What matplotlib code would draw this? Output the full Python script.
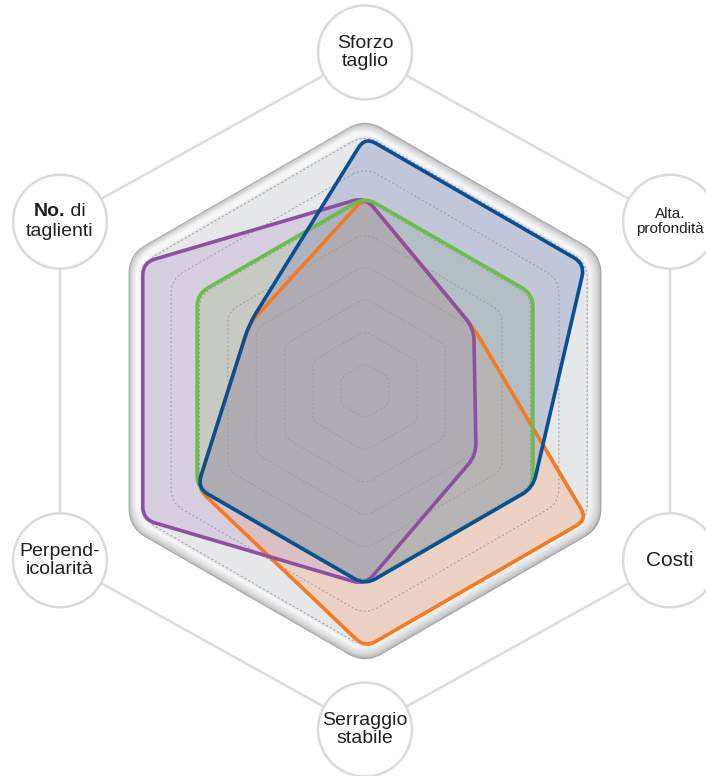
import numpy as np
import matplotlib.pyplot as plt
from matplotlib.path import Path
from matplotlib.patches import PathPatch, Circle

# axes: clockwise from the top
labels = ["Sforzo\ntaglio", "Alta.\nprofondità", "Costi", "Serraggio\nstabile",
          "Perpend-\nicolarità", "No. di\ntaglienti"]

# values in % of the outer frame radius
blue = [93, 93, 71, 71, 71, 49]
green = [71, 71, 71, 71, 71, 71]
orange = [71, 46, 94, 94, 71, 49]
purple = [71, 46, 47, 71, 94, 94]
rings = [10, 22, 34, 46, 58, 70, 82, 94]

FONT = ['Liberation Sans Narrow', 'Liberation Sans', 'DejaVu Sans']

angles = np.deg2rad(90 - 60 * np.arange(6))


def hex_xy(r, dx=0.0, dy=0.0):
    r = np.asarray(r, float) / 100.0
    return dx + r * np.cos(angles), dy + r * np.sin(angles)


def rounded_path(x, y, d):
    pts = np.column_stack([x, y])
    n = len(pts)
    verts, codes = [], []
    for i in range(n):
        p, a, b = pts[i], pts[i - 1], pts[(i + 1) % n]
        la, lb = np.linalg.norm(a - p), np.linalg.norm(b - p)
        p1 = p + (a - p) / la * min(d, 0.45 * la)
        p2 = p + (b - p) / lb * min(d, 0.45 * lb)
        verts += [p1, p, p2]
        codes += [Path.MOVETO if i == 0 else Path.LINETO, Path.CURVE3, Path.CURVE3]
    verts.append(verts[0])
    codes.append(Path.CLOSEPOLY)
    return Path(verts, codes)


fig = plt.figure(figsize=(7.06, 7.76), dpi=100)
ax = fig.add_axes([0, 0, 1, 1])
ax.set_xlim(-1.337, 1.249)
ax.set_ylim(-1.410, 1.432)
ax.set_aspect('equal')
ax.axis('off')

# connecting hexagon between label circles
lab_x = 1.29 * np.cos(angles)
lab_y = 1.24 * np.sin(angles)
ax.plot(np.append(lab_x, lab_x[0]), np.append(lab_y, lab_y[0]),
        color='#dcdcdc', lw=1.8, zorder=1)

# bevelled frame
n_layers = 10
c0 = np.array([165, 166, 169]) / 255
c1 = np.array([247, 247, 248]) / 255
for k, rr in enumerate(np.linspace(100, 96.0, n_layers)):
    t = k / (n_layers - 1)
    col = c0 + (c1 - c0) * np.sqrt(t)
    x, y = hex_xy([rr] * 6, dx=-0.008 * t, dy=0.006 * t)
    ax.add_patch(PathPatch(rounded_path(x, y, 0.07), fc=col, ec='none', zorder=2))
x, y = hex_xy([95.0] * 6)
ax.add_patch(PathPatch(rounded_path(x, y, 0.06), fc='#e6e7e9', ec='#f7f7f7',
                       lw=0.6, zorder=2))

# series fills
series = [
    (orange, '#f7a474', '#f47920'),
    (purple, '#b797c8', '#8e4fa0'),
    (green, '#a6c288', '#6abf4b'),
    (blue, '#7180ba', '#0a4f94'),
]
for vals, fc, ec in series:
    x, y = hex_xy(vals)
    ax.add_patch(PathPatch(rounded_path(x, y, 0.045), fc=fc, ec='none',
                           alpha=0.3, zorder=3))

# dotted rings
for rv in rings:
    x, y = hex_xy([rv] * 6)
    ax.add_patch(PathPatch(rounded_path(x, y, 0.05 * rv / 100 + 0.01), fill=False,
                           ec='#9d9d9f', lw=0.7, ls=(0, (2.2, 2.2)), zorder=4))

# series outlines
for vals, fc, ec in series:
    x, y = hex_xy(vals)
    ax.add_patch(PathPatch(rounded_path(x, y, 0.045), fill=False, ec=ec,
                           lw=2.6, joinstyle='round', zorder=5))

# label circles
for i, (lx, ly) in enumerate(zip(lab_x, lab_y)):
    ax.add_patch(Circle((lx, ly), 0.172, fc='white', ec='#dadada', lw=1.8, zorder=6))
    if i == 5:
        ax.text(lx + 0.02, ly + 0.036, "No.", ha='right', va='center', fontsize=14,
                fontweight='bold', family=FONT, color='#231f20', zorder=7)
        ax.text(lx + 0.02, ly + 0.036, " di", ha='left', va='center', fontsize=14,
                family=FONT, color='#231f20', zorder=7)
        ax.text(lx, ly - 0.036, "taglienti", ha='center', va='center', fontsize=14,
                family=FONT, color='#231f20', zorder=7)
        continue
    fs = 14
    if i == 1:
        fs = 11
    if i == 2:
        fs = 15
    ax.text(lx, ly, labels[i], ha='center', va='center', fontsize=fs, family=FONT,
            color='#231f20', linespacing=1.05, zorder=7)

fig.savefig('out.png', dpi=100)
